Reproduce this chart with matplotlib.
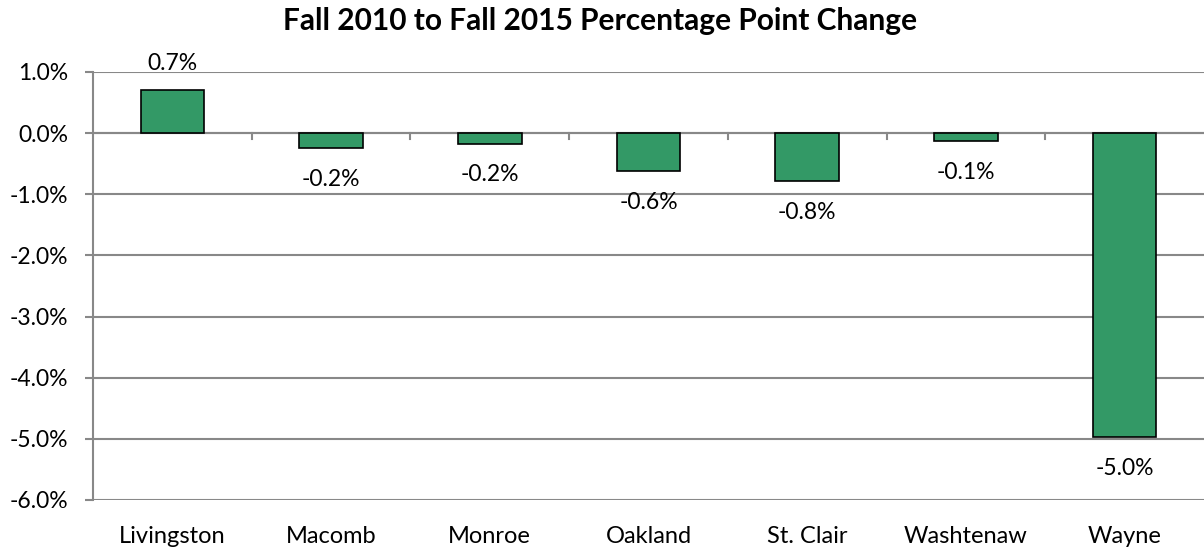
import matplotlib
matplotlib.use("Agg")
import matplotlib.pyplot as plt
from matplotlib.ticker import FuncFormatter

counties = ["Livingston", "Macomb", "Monroe", "Oakland", "St. Clair", "Washtenaw", "Wayne"]
changes = [0.70, -0.24, -0.17, -0.62, -0.79, -0.13, -4.97]
labels = ["0.7%", "-0.2%", "-0.2%", "-0.6%", "-0.8%", "-0.1%", "-5.0%"]
y_ticks = [1, 0, -1, -2, -3, -4, -5, -6]

BAR = "#339966"
GRID = "#888888"

plt.rcParams["font.family"] = ["Lato", "DejaVu Sans"]

fig = plt.figure(figsize=(12.04, 5.52), dpi=100)
ax = fig.add_axes([93 / 1204, 1 - 500 / 552, (1204 - 93) / 1204, (500 - 72) / 552])

x = list(range(len(counties)))
ax.bar(x, changes, width=0.4, color=BAR, edgecolor="black", linewidth=1.2, zorder=3)

for xi, v, lab in zip(x, changes, labels):
    if v >= 0:
        ax.annotate(lab, (xi, v), xytext=(0, 12), textcoords="offset points",
                    ha="center", va="bottom", fontsize=16.5, zorder=4)
    else:
        ax.annotate(lab, (xi, v), xytext=(0, -15), textcoords="offset points",
                    ha="center", va="top", fontsize=16.5, zorder=4)

ax.set_xlim(-0.5, len(counties) - 0.5)
ax.set_ylim(-6, 1)
ax.set_yticks(y_ticks)
ax.yaxis.set_major_formatter(FuncFormatter(lambda v, p: f"{v:.1f}%"))
ax.grid(axis="y", color=GRID, linewidth=1.5, zorder=0)
ax.set_axisbelow(True)

for s in ["top", "right", "bottom"]:
    ax.spines[s].set_visible(False)
ax.spines["left"].set_color(GRID)
ax.spines["left"].set_linewidth(1.5)
ax.axhline(0, color=GRID, linewidth=1.5, zorder=2)

# category boundary ticks hanging off the zero line
for b in [i + 0.5 for i in range(len(counties) - 1)]:
    ax.plot([b, b], [0, -0.1], color=GRID, linewidth=1.5, clip_on=False, zorder=2)

ax.tick_params(axis="y", length=6, width=1.5, color=GRID, labelsize=16.5, pad=12)
ax.set_xticks(x)
ax.set_xticklabels(counties)
ax.tick_params(axis="x", length=0, labelsize=17, pad=19)

fig.suptitle("Fall 2010 to Fall 2015 Percentage Point Change", fontsize=21.5,
             fontweight="bold", y=1 - 21 / 552, va="center", x=600 / 1204)

fig.savefig("out.png", dpi=100, facecolor="white")
